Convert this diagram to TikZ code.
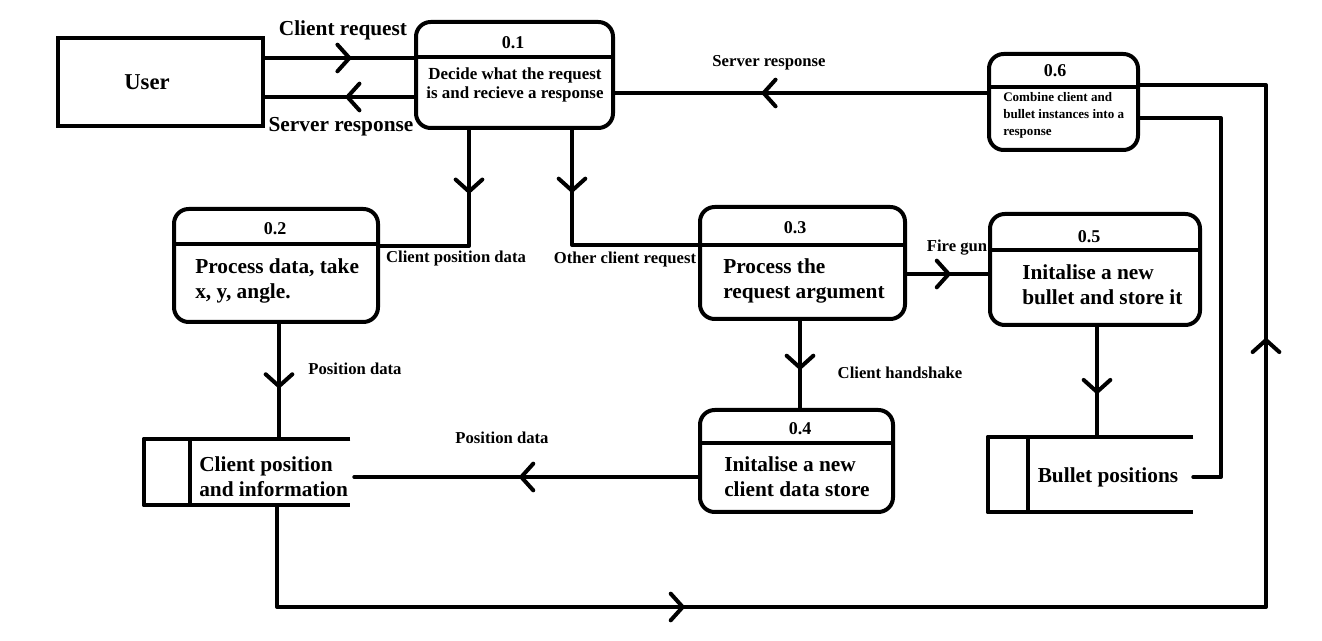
\documentclass[tikz,border=0pt]{standalone}
\usepackage{fontspec}
\setmainfont{Liberation Serif}
\usetikzlibrary{arrows.meta,decorations.markings,calc}
\newcommand\mychev{\arrow[line width=3pt]{Straight Barb[length=9pt,width=20pt,line cap=round,line join=round]}}
\tikzset{
  ln/.style={line width=3pt, line cap=round, line join=round},
  dv/.style={line width=3pt, line cap=butt},
  ent/.style={draw, line width=3pt, inner sep=0pt},
  proc/.style={draw, line width=3pt, rounded corners=11pt, inner sep=0pt},
  store/.style={inner sep=0pt},
  ttl/.style={inner sep=0pt, font=\bfseries\fontsize{13.5}{15}\selectfont},
  body/.style={inner sep=0pt, align=left, anchor=west, font=\bfseries\fontsize{16}{19}\selectfont},
  lbig/.style={inner sep=0pt, font=\bfseries\fontsize{16}{19}\selectfont},
  lsm/.style={inner sep=0pt, font=\bfseries\fontsize{12.5}{15}\selectfont},
  flow/.style={ln, postaction={decorate}, decoration={markings, mark=at position #1 with {\mychev}}},
}
\begin{document}
\begin{tikzpicture}[x=0.75pt,y=-0.75pt]
\useasboundingbox[fill=white] (0,0) rectangle (1322,641);
% entities and processes
\node[ent, minimum width=153.75pt, minimum height=66pt] (user) at (160.5,82) {};
\node[lbig, font=\bfseries\fontsize{17}{20}\selectfont] (usert) at (147,82) {User};
\node[proc, minimum width=147.75pt, minimum height=79.5pt] (p1) at (514.5,75) {};
\node[proc, minimum width=153pt, minimum height=84.75pt] (p2) at (276,265.5) {};
\node[proc, minimum width=153.75pt, minimum height=84pt] (p3) at (802.5,263) {};
\node[proc, minimum width=157.5pt, minimum height=83.25pt] (p5) at (1095,269.5) {};
\node[proc, minimum width=111.75pt, minimum height=72pt] (p6) at (1063.5,102) {};
\node[proc, minimum width=144.75pt, minimum height=76.5pt] (p4) at (796.5,461) {};
% dividers
\draw[dv] (p1.west |- 0,57) -- (p1.east |- 0,57);
\draw[dv] (p2.west |- 0,244) -- (p2.east |- 0,244);
\draw[dv] (p3.west |- 0,245) -- (p3.east |- 0,245);
\draw[dv] (p5.west |- 0,250) -- (p5.east |- 0,250);
\draw[dv] (p6.west |- 0,87) -- (p6.east |- 0,87);
\draw[dv] (p4.west |- 0,443) -- (p4.east |- 0,443);
% titles
\node[ttl] (t1) at (513,43) {0.1};
\node[ttl] (t2) at (275,229) {0.2};
\node[ttl] (t3) at (795,228) {0.3};
\node[ttl] (t5) at (1089,237) {0.5};
\node[ttl] (t6) at (1055,71) {0.6};
\node[ttl] (t4) at (800,429) {0.4};
% body texts
\node[inner sep=0pt, align=center, font=\bfseries\fontsize{12.7}{14.25}\selectfont] (b1) at (515,85) {Decide what the request\\is and recieve a response};
\node[body] (b2) at (195,281) {Process data, take\\x, y, angle.};
\node[body] (b3) at (723,281) {Process the\\request argument};
\node[body] (b5) at (1022,285) {Initalise a new\\bullet and store it};
\node[body, font=\bfseries\fontsize{9.8}{12.75}\selectfont] (b6) at (1003,115) {Combine client and\\bullet instances into a\\response};
\node[body] (b4) at (724,477) {Initalise a new\\client data store};
% data stores
\node[store, minimum width=154.5pt, minimum height=49.5pt] (s1) at (247,472) {};
\draw[ln, line cap=butt] (s1.north east) -- (s1.north west) -- (s1.south west) -- (s1.south east);
\draw[dv] (s1.north west -| 190,0) -- (s1.south west -| 190,0);
\node[body] (s1t) at (199,477) {Client position\\and information};
\node[store, minimum width=153.75pt, minimum height=56.25pt] (s2) at (1090.5,474.5) {};
\draw[ln, line cap=butt] (s2.north east) -- (s2.north west) -- (s2.south west) -- (s2.south east);
\draw[dv] (s2.north west -| 1028,0) -- (s2.south west -| 1028,0);
\node[lbig] (s2t) at (1108,477) {Bullet positions};
% flows
\draw[flow=0.58] (user.east |- 0,58) -- (p1.west |- 0,58);
\draw[flow=0.46] (p1.west |- 0,97) -- (user.east |- 0,97);
\draw[flow=0.31] (p1.south -| 469,0) |- (p2.east |- 0,246);
\draw[flow=0.26] (p1.south -| 572,0) |- (p3.west |- 0,245);
\draw[flow=0.606] (p6.west |- 0,93) -- (p1.east |- 0,93);
\draw[flow=0.54] (p3.east |- 0,274) -- (p5.west |- 0,274);
\draw[flow=0.56] (p3.south -| 800,0) -- (p4.north -| 800,0);
\draw[flow=0.61] (p5.south -| 1097,0) -- (s2.north -| 1097,0);
\draw[flow=0.56] (p2.south -| 279,0) -- (s1.north -| 279,0);
\draw[flow=0.52] (p4.west |- 0,477) -- ($(s1.east |- 0,477)+(4,0)$);
\coordinate (c1) at (277,607);
\coordinate (c2) at (1266,607);
\coordinate (c3) at (1266,85);
\draw[ln, postaction={decorate}, decoration={markings, mark=at position 0.293 with {\mychev}, mark=at position 0.782 with {\mychev}}]
  (s1.south -| c1) -- (c1) -- (c2) -- (c3) -- (p6.east |- c3);
\coordinate (c4) at (1221,477);
\coordinate (c5) at (1221,118);
\draw[ln] (s2.east |- c4) -- (c4) -- (c5) -- (p6.east |- c5);
% labels
\node[lbig] (l1) at (343,30) {Client request};
\node[lbig] (l2) at (341,127) {Server response};
\node[lsm] (l3) at (456,258) {Client position data};
\node[lsm] (l4) at (625,259) {Other client request};
\node[lsm] (l5) at (769,63) {Server response};
\node[lsm] (l6) at (957,248) {Fire gun};
\node[lsm] (l7) at (900,373) {Client handshake};
\node[lsm] (l8) at (355,369) {Position data};
\node[lsm] (l9) at (502,438) {Position data};
\end{tikzpicture}
\end{document}
